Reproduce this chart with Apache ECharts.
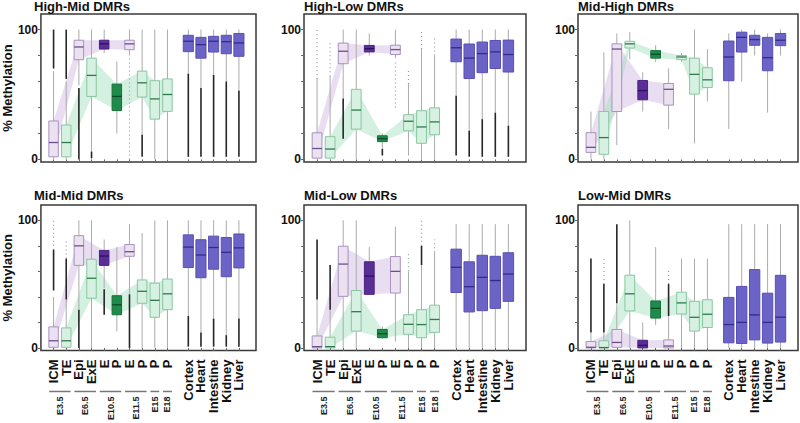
<!DOCTYPE html>
<html><head><meta charset="utf-8">
<script src="https://cdn.jsdelivr.net/npm/echarts@6/dist/echarts.min.js"></script>
<style>html,body{margin:0;padding:0;background:#fff}#c{width:800px;height:423px}</style>
</head><body><div id="c"></div>
<script>
// ---------- categories / positions ----------
const categories = ['ICM','TE','Epi','ExE','E','P','E','P','P','P','Cortex','Heart','Intestine','Kidney','Liver'];
const positions  = [1,2,3,4,5,6,7,8,9,10,11.65,12.65,13.65,14.65,15.65];
const boxKinds   = ['emb','pla','emb','pla','embDark','plaDark','emb','pla','pla','pla','tis','tis','tis','tis','tis'];
const embryoLineage   = [0,2,4,6];
const placentaLineage = [1,3,5,7,8,9];
const stageLabels    = ['E3.5','E6.5','E10.5','E11.5','E15','E18'];
const stagePositions = [1.5,3.5,5.5,7.5,9,10];
const stageSpans     = [[1,2],[3,4],[5,6],[7,8],[9,9],[10,10]];
const yTickValues  = [0,20,40,60,80,100];
const yLabelValues = [0,100];
const panelTitles = ['High-Mid DMRs','High-Low DMRs','Mid-High DMRs','Mid-Mid DMRs','Mid-Low DMRs','Low-Mid DMRs'];

// ---------- data: [min, q1, median, q3, max] ----------
const highMidBoxes = [[0,2,13,29.6,68],[0,2,13,26.5,60],[57,76.8,86.6,91.8,100],[0,48.5,64.7,78,100],[82,85,89,91.8,100],[20,37.6,48.5,58,75.5],[80,84.5,89,91.8,100],[19,48,59,68,100],[0,31,46.6,60.6,100],[0,37,50,62,100],[66,83,91,95.6,100],[55,78,88.4,94,100],[65,82.7,91,94.8,100],[60,81.4,90.7,95.6,100],[53.6,79.4,89.7,97,100]];
const highMidDense = [[70,100],[62,100],[0,55],[1,6],null,null,null,[2,19],null,null,[2,66],[2,55],[2,65],[2,60],[2,53]];
const highMidSparse = [null,null,null,null,null,null,[0,78],null,null,null,null,null,null,null,null];

const highLowBoxes = [[0,1,8.4,20.5,62],[0,1,8,17.5,64],[47,73.7,83.3,89.6,100],[0,23.3,38,54,100],[80,82.8,85.3,87.8,97],[8,13.7,16,18.2,20],[78,80.8,84.6,88,100],[3,22,29.4,34.4,58],[0,12.4,25,37.5,85],[0,19,28.9,39.7,80],[49,75.2,86,92.7,100],[22,62.3,78,88.9,100],[31,66.8,81.5,90.4,100],[36,70,82.8,91.6,100],[26,67.3,80.8,91.9,100]];
const highLowDense = [null,null,[16,47],null,null,[3,8],null,null,null,null,[3,49],[2,22],[2,31],[2,36],[2,26]];
const highLowSparse = [[62,100],[64,90],null,null,null,null,[40,77],[58,70],[85,100],[80,95],null,null,null,null,null];

const midHighBoxes = [[0,5.4,9.3,20.6,36.9],[0,3.9,16.8,36.9,82.5],[11,36.9,85,89,97],[77,85.8,89,91,98],[37,45.9,53,60.8,67],[75,78,81,83.8,88],[23.5,41.8,54,58.5,70],[75,76.8,78.9,80,82],[12.4,50.3,65.5,78,100],[44.6,55.4,61.3,70.6,85],[23.5,60.6,78.9,91.2,97],[60,82.7,94,98,100],[80,87.9,92.3,95.6,100],[36,68.3,78.4,94,97],[80,87.6,91.8,97,100]];
const midHighDense = [null,null,null,null,null,null,null,null,null,null,null,null,null,null,null];
const midHighSparse = [null,null,null,null,null,null,null,null,null,null,null,null,null,null,null];

const midMidBoxes = [[0,0.5,5.6,16.5,40],[0,0.5,5.6,15.7,38],[30,64.7,80,88,100],[0,39,54.6,69.5,100],[47,64.7,72,76.4,85],[13,26,33.8,40.9,79],[42,71.8,75.4,81,97],[0,35,44.4,53.3,90],[0,24,37.3,50.8,100],[0,30,42.4,54,100],[25,63,79,88.6,100],[12,55,72.8,84.8,100],[23,61.7,78.7,87.6,100],[10,55.8,74.9,86.5,100],[23,62.7,78.4,89.3,100]];
const midMidDense = [[45,77],[38,70],[0,30],null,[26,46],null,[0,42],null,null,null,[1,25],[1,12],[1,23],[1,10],[1,23]];
const midMidSparse = [[77,100],[70,85],null,null,null,null,null,null,null,null,null,null,null,null,null];

const midLowBoxes = [[0,0,1,9.4,38],[0,0,1,8.4,30],[0,40.4,65.7,79.7,100],[0,13.2,28.4,45,100],[42,42,56.3,67.5,79],[7,8,11.2,14.5,17],[5,43,60,71.6,95],[0,10.7,18.5,26,60],[0,8,18.3,30,65],[0,12.2,22.3,33.5,75],[0,43.4,63.2,77.4,97],[0,28.2,48,67.5,97],[0,29.2,55.3,72.6,97],[0,31,52.8,71.8,97],[0,36.5,57.9,74.6,97]];
const midLowDense = [[38,85],[30,65],null,null,null,null,null,null,[65,80],null,null,null,null,null,null];
const midLowSparse = [null,null,null,null,null,null,null,[60,75],[80,100],[75,85],null,null,null,null,null];

const lowMidBoxes = [[0,0,0.5,5,12],[0,0,0.3,5.6,12],[0,0.5,4.3,14.5,35],[0,29,42.4,57,100],[0,0,2,6,20],[18,23.4,31,36.8,79],[0,0,1.5,6.3,25],[0,26.6,35.3,43.7,70],[0,13.2,24,36.5,70],[0,16,26.4,37.8,70],[0,4,18.3,39.6,97],[0,3.5,20,48.2,97],[0,6.3,25.9,61.4,97],[0,3.8,20,42.9,97],[0,4.6,24.1,56.9,97]];
const lowMidDense = [[12,70],[12,50],[35,97],null,null,null,[25,50],null,null,null,null,null,null,null,null];
const lowMidSparse = [null,[50,72],null,null,null,null,[50,62],null,null,null,null,null,null,null,null];

const panels = [
  {boxes: highMidBoxes, dense: highMidDense, sparse: highMidSparse},
  {boxes: highLowBoxes, dense: highLowDense, sparse: highLowSparse},
  {boxes: midHighBoxes, dense: midHighDense, sparse: midHighSparse},
  {boxes: midMidBoxes,  dense: midMidDense,  sparse: midMidSparse},
  {boxes: midLowBoxes,  dense: midLowDense,  sparse: midLowSparse},
  {boxes: lowMidBoxes,  dense: lowMidDense,  sparse: lowMidSparse}
];

// ---------- styles / layout ----------
const FONT = 'Liberation Sans, Arial, sans-serif';
const kindStyle = {
  emb:     {fill:'#ebe1f1', stroke:'#a892bf', median:'#6e4f8c', w: 0.75},
  embDark: {fill:'#5b2e97', stroke:'#4a2382', median:'#2c1162', w: 0.75},
  pla:     {fill:'#d6f1e2', stroke:'#88c7a1', median:'#2f7a4c', w: 0.75},
  plaDark: {fill:'#1e8b4b', stroke:'#16713b', median:'#0b4a26', w: 0.75},
  tis:     {fill:'#6c63c7', stroke:'#5a50b3', median:'#35298a', w: 0.8}
};
const gridLefts = [34, 304, 578];
const gridWidths = [222, 222, 220];
const gridTops = [14, 205];
const gridHeight = 148;
const titleTops = [0, 189];
// labels split over two axes so that neighbours never share one axis
const evenPositions = positions.filter((v, k) => k % 2 === 0);
const oddPositions  = positions.filter((v, k) => k % 2 === 1);

const option = {
  animation: false,
  backgroundColor: '#fff',
  title: [], grid: [], xAxis: [], yAxis: [], series: []
};

function catLabel(values, show) {
  return {
    show: show, customValues: values, rotate: 90, margin: 9,
    showMinLabel: true, showMaxLabel: true, hideOverlap: false,
    fontSize: 13, fontWeight: 'bold', color: '#111', fontFamily: FONT,
    formatter: v => categories[positions.indexOf(v)] || ''
  };
}

panels.forEach((p, i) => {
  const row = Math.floor(i / 3), col = i % 3;
  const bottomRow = row === 1;
  option.title.push({
    text: panelTitles[i], left: gridLefts[col], top: titleTops[row], padding: 0,
    textStyle: {fontSize: 13, fontWeight: 'bold', color: '#111', fontFamily: FONT}
  });
  option.grid.push({
    left: gridLefts[col], top: gridTops[row], width: gridWidths[col], height: gridHeight,
    show: true, borderColor: '#3a3a3a', borderWidth: 1.5, backgroundColor: 'transparent'
  });
  option.xAxis.push({
    type: 'value', gridIndex: i, position: 'bottom', min: 0, max: 17,
    splitLine: {show: false}, axisLine: {show: false},
    axisTick: {show: true, customValues: positions, length: 3, lineStyle: {color: '#666'}},
    axisLabel: catLabel(evenPositions, bottomRow)
  });
  option.yAxis.push({
    type: 'value', gridIndex: i, min: -2, max: 112,
    splitLine: {show: false}, axisLine: {show: false},
    axisTick: {show: true, customValues: yTickValues, length: 3, lineStyle: {color: '#666'}},
    axisLabel: {customValues: yLabelValues, margin: 3, showMinLabel: true, showMaxLabel: true,
      fontSize: 12, fontWeight: 'bold', color: '#111', fontFamily: FONT},
    name: col === 0 ? '% Methylation' : '', nameLocation: 'middle', nameGap: 19, nameRotate: 90,
    nameTextStyle: {fontSize: 13, fontWeight: 'bold', color: '#111', fontFamily: FONT}
  });

  // ribbons
  option.series.push({
    type: 'custom', xAxisIndex: i, yAxisIndex: i, z: 1, silent: true,
    data: [[0, 0], [1, 0]],
    encode: {x: 0, y: 1},
    renderItem: (params, api) => {
      const lineage = params.dataIndex === 0 ? embryoLineage : placentaLineage;
      const top = lineage.map(k => api.coord([positions[k], p.boxes[k][3]]));
      const bot = lineage.slice().reverse().map(k => api.coord([positions[k], p.boxes[k][1]]));
      return {type: 'polygon', shape: {points: top.concat(bot)},
        style: {fill: params.dataIndex === 0 ? 'rgba(205,180,225,0.45)' : 'rgba(160,222,188,0.45)'}};
    }
  });
  // sparse outliers
  option.series.push({
    type: 'custom', xAxisIndex: i, yAxisIndex: i, z: 2, silent: true,
    data: p.sparse.map((r, k) => r ? [positions[k], r[0], r[1]] : null).filter(Boolean),
    encode: {x: 0, y: [1, 2]},
    renderItem: (params, api) => {
      const a = api.coord([api.value(0), api.value(1)]), b = api.coord([api.value(0), api.value(2)]);
      return {type: 'line', shape: {x1: a[0], y1: a[1], x2: b[0], y2: b[1]},
        style: {stroke: '#9a9a9a', lineWidth: 1.2, lineDash: [1, 3]}};
    }
  });
  // boxes with whiskers
  option.series.push({
    type: 'custom', xAxisIndex: i, yAxisIndex: i, z: 3, silent: true,
    data: p.boxes.map((b, k) => [positions[k]].concat(b)),
    encode: {x: 0, y: [1, 2, 3, 4, 5]},
    renderItem: (params, api) => {
      const x = api.value(0);
      const lo = api.coord([x, api.value(1)]), q1 = api.coord([x, api.value(2)]),
            md = api.coord([x, api.value(3)]), q3 = api.coord([x, api.value(4)]),
            hi = api.coord([x, api.value(5)]);
      const st = kindStyle[boxKinds[params.dataIndex]];
      const w = api.size([st.w, 0])[0];
      return {type: 'group', children: [
        {type: 'line', shape: {x1: lo[0], y1: lo[1], x2: hi[0], y2: hi[1]}, style: {stroke: '#ababab', lineWidth: 1}},
        {type: 'rect', shape: {x: q3[0] - w / 2, y: q3[1], width: w, height: Math.max(q1[1] - q3[1], 1)},
          style: {fill: st.fill, stroke: st.stroke, lineWidth: 1}},
        {type: 'line', shape: {x1: md[0] - w / 2, y1: md[1], x2: md[0] + w / 2, y2: md[1]},
          style: {stroke: st.median, lineWidth: 1.3}}
      ]};
    }
  });
  // dense outliers (drawn over whisker)
  option.series.push({
    type: 'custom', xAxisIndex: i, yAxisIndex: i, z: 4, silent: true,
    data: p.dense.map((r, k) => r ? [positions[k], r[0], r[1]] : null).filter(Boolean),
    encode: {x: 0, y: [1, 2]},
    renderItem: (params, api) => {
      const a = api.coord([api.value(0), api.value(1)]), b = api.coord([api.value(0), api.value(2)]);
      return {type: 'line', shape: {x1: a[0], y1: a[1], x2: b[0], y2: b[1]},
        style: {stroke: '#262626', lineWidth: 1.6}};
    }
  });
});

// bottom row: odd category labels, stage labels and group bars
[3, 4, 5].forEach(gi => {
  option.xAxis.push({
    type: 'value', gridIndex: gi, position: 'bottom', min: 0, max: 17,
    splitLine: {show: false}, axisLine: {show: false}, axisTick: {show: false},
    axisLabel: catLabel(oddPositions, true)
  });
  const axisIdx = option.xAxis.length;
  option.xAxis.push({
    type: 'value', gridIndex: gi, position: 'bottom', min: 0, max: 17,
    splitLine: {show: false}, axisLine: {show: false}, axisTick: {show: false},
    axisLabel: {
      customValues: stagePositions, rotate: 90, margin: 46,
      showMinLabel: true, showMaxLabel: true, hideOverlap: false,
      fontSize: 9, fontWeight: 'bold', color: '#222', fontFamily: FONT,
      formatter: v => stageLabels[stagePositions.indexOf(v)] || ''
    }
  });
  option.series.push({
    type: 'custom', xAxisIndex: axisIdx, yAxisIndex: gi, z: 5, silent: true, clip: false,
    data: stageSpans.map(s => [s[0], s[1]]),
    encode: {x: [0, 1]},
    renderItem: (params, api) => {
      const a = api.coord([api.value(0) - 0.35, 0])[0];
      const b = api.coord([api.value(1) + 0.35, 0])[0];
      const y = params.coordSys.y + params.coordSys.height + 41;
      return {type: 'line', shape: {x1: a, y1: y, x2: b, y2: y}, style: {stroke: '#777', lineWidth: 1.5}};
    }
  });
});

const chart = echarts.init(document.getElementById('c'), null, {renderer: 'svg', width: 800, height: 423});
chart.setOption(option);
</script></body></html>
